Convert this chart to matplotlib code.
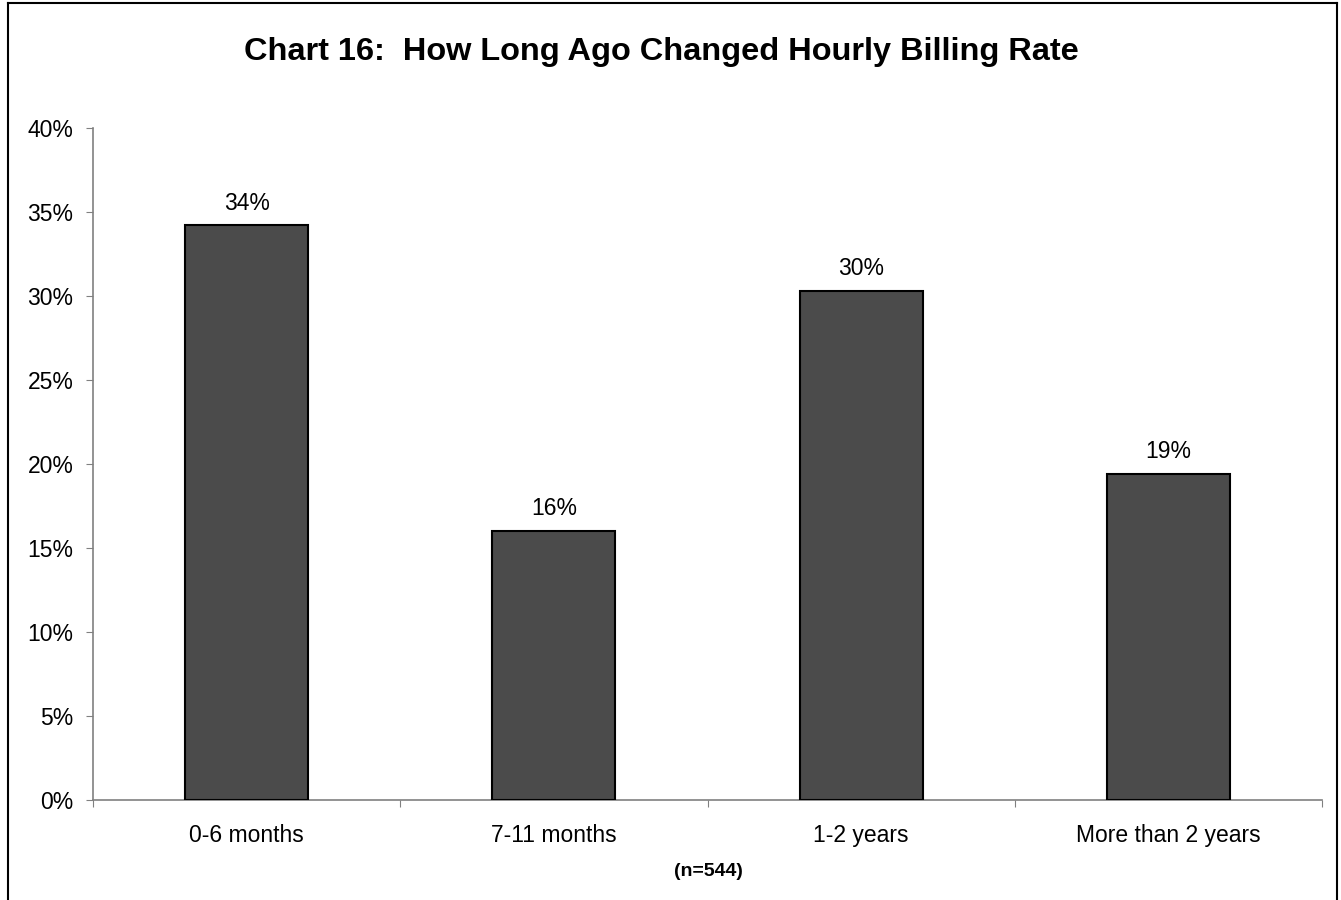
import matplotlib
matplotlib.use("Agg")
import matplotlib.pyplot as plt
from matplotlib.lines import Line2D
from matplotlib.ticker import FuncFormatter, MultipleLocator

categories = ["0-6 months", "7-11 months", "1-2 years", "More than 2 years"]
values = [34.2, 16.0, 30.3, 19.4]
value_labels = ["34%", "16%", "30%", "19%"]

title = "Chart 16:  How Long Ago Changed Hourly Billing Rate"
note = "(n=544)"

plt.rcParams['font.family'] = ['Liberation Sans', 'DejaVu Sans']

fig = plt.figure(figsize=(13.41, 9.0), dpi=100)
ax = fig.add_axes([93 / 1341, 100 / 900, (1322 - 93) / 1341, (800 - 128) / 900])

x = range(len(categories))
ax.bar(x, values, width=0.4, color='#4b4b4b', edgecolor='black', linewidth=1.5, zorder=3)

for xi, v, lab in zip(x, values, value_labels):
    ax.text(xi, v + 0.65, lab, ha='center', va='bottom', fontsize=16.5)

ax.set_xlim(-0.5, len(categories) - 0.5)
ax.set_ylim(0, 40)
ax.yaxis.set_major_locator(MultipleLocator(5))
ax.yaxis.set_major_formatter(FuncFormatter(lambda v, p: f"{v:.0f}%"))

# category ticks sit between the groups, labels centred under the bars
ax.set_xticks([i - 0.5 for i in range(len(categories) + 1)])
ax.set_xticklabels([])
ax.set_xticks(list(x), minor=True)
ax.set_xticklabels(categories, minor=True, fontsize=16.5)
ax.tick_params(axis='x', which='minor', length=0, pad=17)
ax.tick_params(axis='x', which='major', length=5, color='#808080', direction='out')
ax.tick_params(axis='y', length=5, color='#808080', labelsize=16.5, pad=9)

for side in ['top', 'right']:
    ax.spines[side].set_visible(False)
for side in ['left', 'bottom']:
    ax.spines[side].set_color('#808080')
    ax.spines[side].set_linewidth(1.2)

fig.text(661 / 1341, 1 - 52 / 900, title, ha='center', va='center',
         fontsize=23.4, fontweight='bold')
fig.text(708 / 1341, 1 - 871 / 900, note, ha='center', va='center',
         fontsize=14, fontweight='bold')

# outer chart border (bottom edge falls outside the picture)
bx0, bx1, by = 8 / 1341, 1337 / 1341, 1 - 3 / 900
for xs, ys in [([bx0, bx0], [0, by]), ([bx0, bx1], [by, by]), ([bx1, bx1], [by, 0])]:
    fig.add_artist(Line2D(xs, ys, color='black', linewidth=1.5, transform=fig.transFigure))

fig.savefig("out.png", dpi=100)
